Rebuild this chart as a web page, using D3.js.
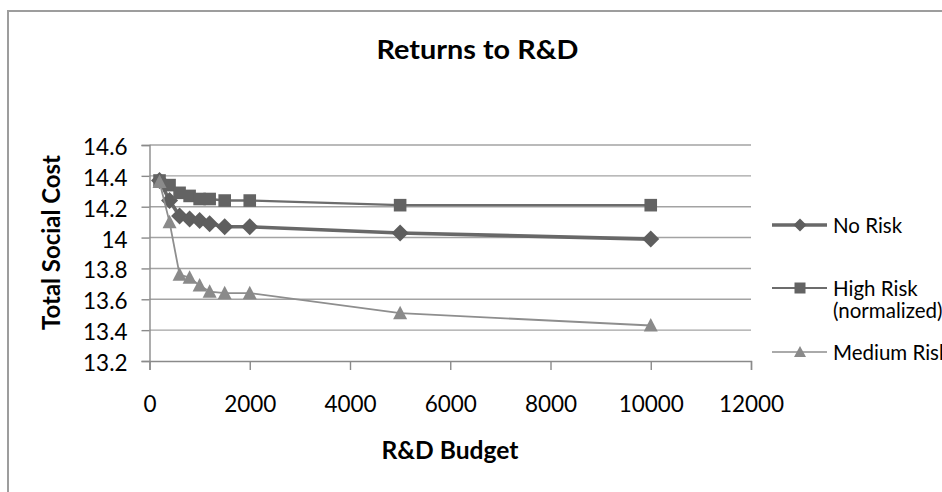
<!DOCTYPE html>
<html>
<head>
<meta charset="utf-8">
<script src="https://cdn.jsdelivr.net/npm/d3@7"></script>
<style>
  html, body { margin: 0; padding: 0; background: #ffffff; }
  svg { display: block; }
  text { font-family: Lato, "Open Sans", sans-serif; fill: #000; }
</style>
</head>
<body>
<svg id="chart" width="942" height="492"></svg>
<script>
// R&D budget levels (x) and total social cost for each risk scenario
const budgets = [200, 400, 600, 800, 1000, 1200, 1500, 2000, 5000, 10000];
const noRisk = [14.37, 14.24, 14.14, 14.12, 14.11, 14.09, 14.07, 14.07, 14.03, 13.99];
const highRisk = [14.37, 14.34, 14.29, 14.27, 14.25, 14.25, 14.24, 14.24, 14.21, 14.21];
const mediumRisk = [14.36, 14.10, 13.76, 13.74, 13.69, 13.65, 13.64, 13.64, 13.51, 13.43];

const seriesNames = ["No Risk", "High Risk (normalized)", "Medium Risk"];
const xTicks = [0, 2000, 4000, 6000, 8000, 10000, 12000];
const yTicks = [13.2, 13.4, 13.6, 13.8, 14, 14.2, 14.4, 14.6];

const svg = d3.select("#chart");

// outer chart frame (runs past the right and bottom edges)
svg.append("rect")
  .attr("x", 8).attr("y", 11)
  .attr("width", 960).attr("height", 500)
  .attr("fill", "#fff")
  .attr("stroke", "#9d9d9d")
  .attr("stroke-width", 2);

const plot = { left: 149.5, right: 751, top: 145, bottom: 361 };

const x = d3.scaleLinear().domain([0, 12000]).range([plot.left, plot.right]);
const y = d3.scaleLinear().domain([13.2, 14.6]).range([plot.bottom, plot.top]);

// horizontal gridlines
svg.append("g")
  .selectAll("line")
  .data(yTicks.filter(d => d > 13.2))
  .join("line")
  .attr("x1", plot.left).attr("x2", plot.right)
  .attr("y1", d => y(d)).attr("y2", d => y(d))
  .attr("stroke", "#a3a3a3")
  .attr("stroke-width", 1.4);

// y axis
const yAxis = svg.append("g")
  .attr("transform", `translate(${plot.left},0)`)
  .call(d3.axisLeft(y).tickValues(yTicks).tickSize(8).tickPadding(14)
    .tickFormat(d => d3.format("")(+d.toFixed(1))));
yAxis.select(".domain").attr("stroke", "#8a8a8a").attr("stroke-width", 1.4);
yAxis.selectAll(".tick line").attr("stroke", "#8a8a8a").attr("stroke-width", 1.4);
yAxis.selectAll(".tick text")
  .attr("font-size", 22.5).attr("font-family", "Lato").attr("fill", "#000")
  .attr("dy", "0.42em");

// x axis
const xAxis = svg.append("g")
  .attr("transform", `translate(0,${plot.bottom})`)
  .call(d3.axisBottom(x).tickValues(xTicks).tickSize(9).tickPadding(26)
    .tickFormat(d3.format("d")));
xAxis.select(".domain").attr("stroke", "#8a8a8a").attr("stroke-width", 1.4);
xAxis.selectAll(".tick line").attr("stroke", "#8a8a8a").attr("stroke-width", 1.4);
xAxis.selectAll(".tick text")
  .attr("font-size", 22.5).attr("font-family", "Lato").attr("fill", "#000")
  .attr("dy", "0.71em");

// marker shapes
const diamond = s => `M0,${-s}L${s},0L0,${s}L${-s},0Z`;
const square = s => `M${-s},${-s}H${s}V${s}H${-s}Z`;
const triangle = (w, h) => `M0,${-h * 0.55}L${w / 2},${h * 0.45}L${-w / 2},${h * 0.45}Z`;

const series = [
  { name: seriesNames[0], values: noRisk, line: "#686868", width: 3.6, fill: "#5e5e5e",
    marker: diamond(8.5), legendMarker: diamond(6.5), legendWidth: 3.4 },
  { name: seriesNames[1], values: highRisk, line: "#6c6c6c", width: 2.4, fill: "#636363",
    marker: square(6.3), legendMarker: square(5.5), legendWidth: 2 },
  { name: seriesNames[2], values: mediumRisk, line: "#8e8e8e", width: 1.8, fill: "#8a8a8a",
    marker: triangle(14, 13.5), legendMarker: triangle(12, 11), legendWidth: 1.6 }
];

const lineGen = d3.line().x(d => x(d[0])).y(d => y(d[1]));

series.forEach(s => {
  const pts = budgets.map((b, i) => [b, s.values[i]]);
  const g = svg.append("g");
  g.append("path")
    .datum(pts)
    .attr("d", lineGen)
    .attr("fill", "none")
    .attr("stroke", s.line)
    .attr("stroke-width", s.width)
    .attr("stroke-linejoin", "round");
  g.selectAll("path.marker")
    .data(pts)
    .join("path")
    .attr("class", "marker")
    .attr("d", s.marker)
    .attr("transform", d => `translate(${x(d[0])},${y(d[1])})`)
    .attr("fill", s.fill);
});

// legend
const legendRows = [
  { s: series[0], y: 225, lines: ["No Risk"] },
  { s: series[1], y: 288, lines: ["High Risk", "(normalized)"] },
  { s: series[2], y: 352, lines: ["Medium Risk"] }
];
const lg = svg.append("g");
legendRows.forEach(r => {
  lg.append("line")
    .attr("x1", 772).attr("x2", 827)
    .attr("y1", r.y).attr("y2", r.y)
    .attr("stroke", r.s.line).attr("stroke-width", r.s.legendWidth);
  lg.append("path")
    .attr("d", r.s.legendMarker)
    .attr("transform", `translate(800,${r.y})`)
    .attr("fill", r.s.fill);
  r.lines.forEach((ln, i) => {
    lg.append("text")
      .attr("x", 833).attr("y", r.y + 8 + i * 21.7)
      .attr("font-size", 20.5)
      .text(ln);
  });
});

// titles
svg.append("text")
  .attr("x", 477.5).attr("y", 59)
  .attr("text-anchor", "middle")
  .attr("font-size", 26).attr("font-weight", "bold")
  .attr("textLength", 202).attr("lengthAdjust", "spacingAndGlyphs")
  .text("Returns to R&D");

svg.append("text")
  .attr("transform", "translate(60,242.5) rotate(-90)")
  .attr("text-anchor", "middle")
  .attr("font-size", 24).attr("font-weight", "bold")
  .attr("textLength", 175).attr("lengthAdjust", "spacingAndGlyphs")
  .text("Total Social Cost");

svg.append("text")
  .attr("x", 450).attr("y", 459)
  .attr("text-anchor", "middle")
  .attr("font-size", 24).attr("font-weight", "bold")
  .attr("textLength", 137).attr("lengthAdjust", "spacingAndGlyphs")
  .text("R&D Budget");
</script>
</body>
</html>
